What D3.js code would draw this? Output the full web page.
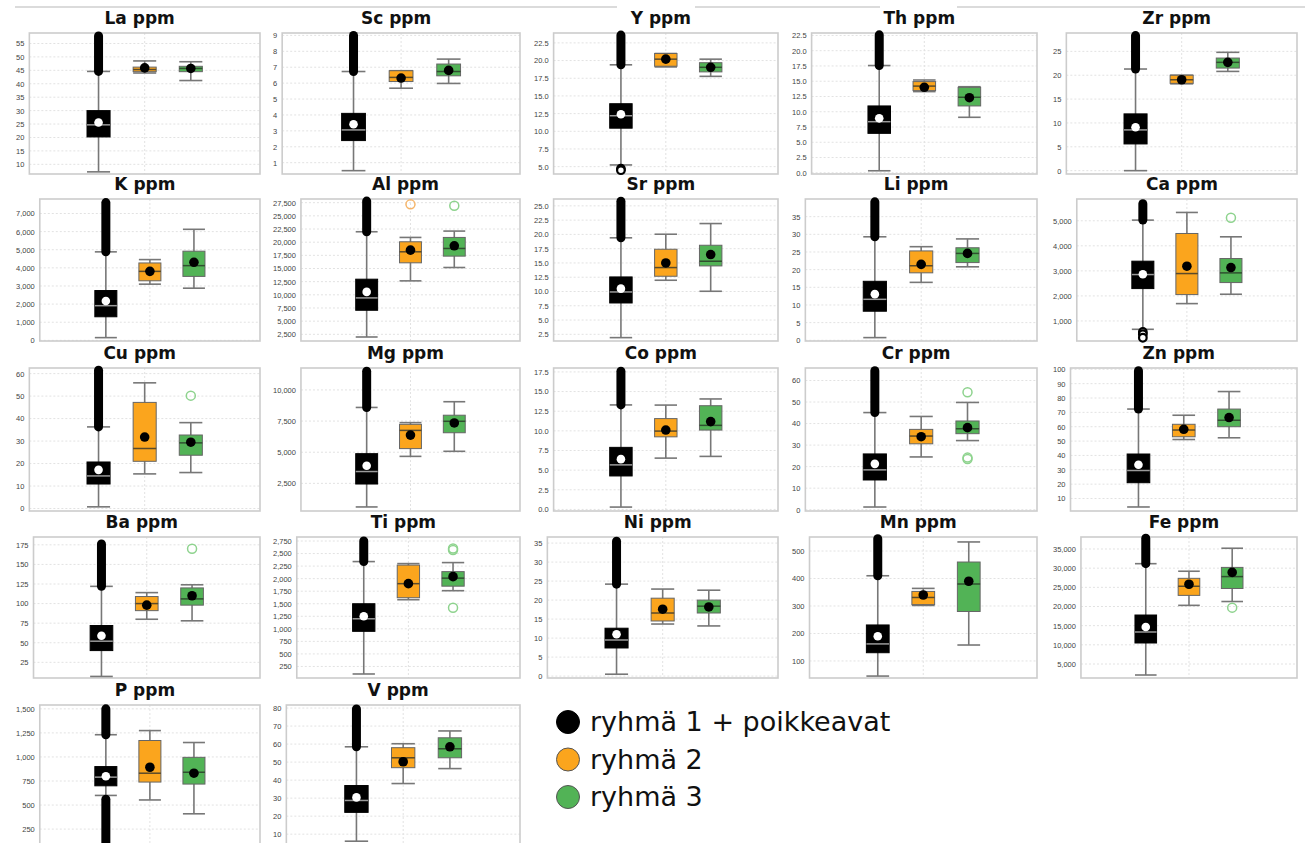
<!DOCTYPE html>
<html><head><meta charset="utf-8">
<script src="https://cdn.jsdelivr.net/npm/d3@7"></script>
<style>body{margin:0;background:#fff}svg{display:block}</style>
</head><body>
<svg id="chart" width="1305" height="843"></svg>
<script>
const panelNames = ["La ppm","Sc ppm","Y ppm","Th ppm","Zr ppm","K ppm","Al ppm","Sr ppm","Li ppm","Ca ppm","Cu ppm","Mg ppm","Co ppm","Cr ppm","Zn ppm","Ba ppm","Ti ppm","Ni ppm","Mn ppm","Fe ppm","P ppm","V ppm"];
const yDomains = [[6.4,58.9],[0.29,9.15],[3.96,23.9],[-0.2,22.9],[-0.7,28.85],[-37,7800],[1231,28200],[1.33,26.2],[-0.2,40],[200,5870],[-1.1,62.5],[280,11760],[-0.2,18.0],[-0.6,65.8],[1.3,100.9],[5,185],[20,2830],[-0.5,36.6],[38,551],[1350,38130],[12,1540],[0.1,81.7]];
const tickValues = [
 [10,15,20,25,30,35,40,45,50,55],
 [1,2,3,4,5,6,7,8,9],
 [5,7.5,10,12.5,15,17.5,20,22.5],
 [0,2.5,5,7.5,10,12.5,15,17.5,20,22.5],
 [0,5,10,15,20,25],
 [0,1000,2000,3000,4000,5000,6000,7000],
 [2500,5000,7500,10000,12500,15000,17500,20000,22500,25000,27500],
 [2.5,5,7.5,10,12.5,15,17.5,20,22.5,25],
 [0,5,10,15,20,25,30,35],
 [1000,2000,3000,4000,5000],
 [0,10,20,30,40,50,60],
 [2500,5000,7500,10000],
 [0,2.5,5,7.5,10,12.5,15,17.5],
 [0,10,20,30,40,50,60],
 [10,20,30,40,50,60,70,80,90,100],
 [25,50,75,100,125,150,175],
 [250,500,750,1000,1250,1500,1750,2000,2250,2500,2750],
 [0,5,10,15,20,25,30,35],
 [100,200,300,400,500],
 [5000,10000,15000,20000,25000,30000,35000],
 [250,500,750,1000,1250,1500],
 [10,20,30,40,50,60,70,80]];
const tickDecimals = [0,0,1,1,0,0,0,1,0,0,0,0,1,0,0,0,0,0,0,0,0,0];
// [low whisker, Q1, median, Q3, high whisker, mean]
const group1Stats = [
 [7.2,20.2,24.7,30.0,44.6,25.6],[0.5,2.39,3.06,4.1,6.73,3.42],[5.24,10.44,12.2,13.9,19.4,12.4],[0.33,6.46,8.37,10.95,17.57,8.92],[0,5.6,8.54,11.9,21.3,9.1],
 [149,1300,1912,2748,4883,2172],[1992,7068,9416,12970,21980,10558],[1.92,7.99,9.92,12.55,19.4,10.5],[0.76,8.23,11.6,16.7,29.3,13.06],[667,2293,2853,3387,5027,2867],
 [0.75,10.9,14.5,20.7,36.3,17.2],[605,2446,3448,4883,8593,3908],[0.3,4.26,5.67,7.9,13.3,6.4],[1.25,13.8,18.5,25.9,45.1,21.3],[4.1,21.0,29.5,41.0,72.3,33.5],
 [7,40,52,72,122,59],[100,950,1200,1500,2340,1250],[0.5,7.4,9.5,12.6,24.2,11.0],[45,130,162,231,410,190],[2130,10480,13350,17780,31170,14650],
 [600,700,790,900,1231,800],[6.1,22.1,28.7,37,58.5,30.4]];
const group1UpperOutlierRange = [[44.6,57.8],[6.73,9.0],[19.4,23.6],[17.57,22.6],[21.3,28.3],[4883,7600],[21980,27800],[19.4,25.8],[29.3,39.2],[5027,5680],[36.3,61.5],[8593,11500],[13.3,17.6],[45.1,64.5],[72.3,99],[122,176],[2340,2750],[24.2,35.5],[410,545],[31170,37800],[1231,1500],[58.5,79.5]];
const group1LowerOutlierRange = [null,null,null,null,null,null,null,null,null,null,null,null,null,null,null,null,null,null,null,null,[20,560],null];
const group1LowerOutliers = [[],[],[4.7,4.5],[],[],[],[],[],[],[560,470,330],[],[],[],[],[],[],[],[],[],[],[],[]];
const group2Stats = [
 [44,44.5,45.3,46.2,48.5,45.9],[5.68,6.1,6.36,6.78,6.78,6.32],[19.1,19.2,20.2,21.0,21.0,20.2],[13.3,13.46,14.2,14.94,15.2,14.0],[18.2,18.3,19.05,20.0,20.0,19.05],
 [3100,3286,3806,4270,4456,3806],[12652,16079,18173,20076,20901,18490],[11.97,12.67,14.19,17.4,20.03,15.0],[16.4,19.1,21.1,25.3,26.5,21.5],[1693,2053,2893,4493,5333,3187],
 [15.4,21,26.7,47.2,55.9,31.8],[4666,5289,6751,7238,7374,6372],[6.53,9.24,9.97,11.56,13.28,10.1],[24.5,30.6,34.2,37.3,43.3,33.9],[51.1,53.0,57.7,61.7,68.0,58.2],
 [80,91,100,109,114,98],[1580,1620,1900,2270,2300,1900],[13.7,14.5,16.6,20.5,22.9,17.6],[302,305,331,353,364,340],[20300,22900,25280,27350,29200,25800],
 [553,739,831,1171,1274,893],[38.1,46.9,52.4,58,60.2,50.2]];
const group2Outliers = [[],[],[],[],[],[],[27183],[],[],[],[],[],[],[],[],[],[],[],[],[],[],[]];
const group3Stats = [
 [41.2,44.5,45.7,46.5,48.2,45.7],[5.98,6.46,6.73,7.2,7.51,6.8],[17.77,18.4,19.05,19.7,20.2,19.05],[9.09,10.95,12.37,14.0,14.1,12.3],[20.8,21.5,22.7,23.6,24.8,22.7],
 [2878,3528,4122,4920,6127,4307],[15190,17348,18807,20901,22107,19315],[10.04,14.48,15.3,18.1,21.9,16.47],[20.8,22.0,24.6,26.2,28.7,24.6],[2067,2533,2920,3493,4360,3133],
 [16.0,23.7,29.2,32.7,38.2,29.5],[5072,6562,7482,7970,9053,7347],[6.75,10.1,10.7,13.2,14.06,11.18],[32.1,35.3,37.6,41.2,49.8,38.1],[52.3,60.0,64.5,72.3,84.5,66.4],
 [78,98,106,120,124,110],[1760,1850,2010,2140,2320,2040],[13.2,16.6,18.4,20,22.6,18.2],[158,280,380,460,533,390],[21300,24700,27800,30200,35200,28900],
 [409,718,841,996,1150,831],[46.4,52.4,57.4,63.5,67.3,58.5]];
const group3Outliers = [[],[],[],[],[],[],[26929],[],[],[5120],[50.2],[],[],[54.5,23.5,24.2],[],[170],[2600,2570,1420],[],[],[19700],[],[]];
const legendLabels = ["ryhmä 1 + poikkeavat","ryhmä 2","ryhmä 3"];

const colors = {g1:"#000000", g2:"#FBA51D", g3:"#52B356", g2out:"#F5B56A", g3out:"#8ED38E"};
const svg = d3.select("#chart");

// layout
const colLabelStart = [15, 272, 533, 791, 1052];
const colRight = [260, 520, 778, 1037, 1297];
const rowTop = [33, 199, 368, 537, 705];
const rowBottom = [174, 341, 511, 678, 852];

// top separator remnants
svg.append("g").selectAll("line").data([[15,617],[695,880],[957,1305]]).join("line")
  .attr("x1",d=>d[0]).attr("x2",d=>d[1]).attr("y1",7).attr("y2",7)
  .attr("stroke","#cfcfcf").attr("stroke-width",1.5);

const measure = svg.append("text").attr("font-family","Liberation Sans, Arial, sans-serif").attr("font-size","7.5px");
function textW(s){ measure.text(s); return measure.node().getComputedTextLength(); }

panelNames.forEach((name, i) => {
  const col = i % 5, row = Math.floor(i / 5);
  const fmt = tickDecimals[i] ? d3.format(",.1f") : d3.format(",");
  const maxW = d3.max(tickValues[i], v => textW(fmt(v)));
  const left = colLabelStart[col] + maxW + 6;
  const right = colRight[col];
  const top = rowTop[row], bottom = rowBottom[row];
  const w = right - left;
  const g = svg.append("g");
  const y = d3.scaleLinear().domain(yDomains[i]).range([bottom, top]);
  const x = d3.scalePoint().domain(["g1","g2","g3"]).range([left + 0.3*w, left + 0.7*w]);
  const bw = 0.1 * w;

  // title
  g.append("text").attr("x",(left+right)/2 - 5).attr("y",top - 9.5)
    .attr("text-anchor","middle").attr("font-family","DejaVu Sans, Verdana, sans-serif")
    .attr("font-weight","bold").attr("font-size","17px").attr("fill","#111").text(name);

  // grid
  g.append("g").selectAll("line").data(tickValues[i]).join("line")
    .attr("x1",left).attr("x2",right).attr("y1",d=>y(d)).attr("y2",d=>y(d))
    .attr("stroke","#e2e2e2").attr("stroke-width",1).attr("stroke-dasharray","2,2");
  g.append("line").attr("x1",left+w/2).attr("x2",left+w/2).attr("y1",top).attr("y2",bottom)
    .attr("stroke","#e2e2e2").attr("stroke-width",1).attr("stroke-dasharray","2,2");

  // axis
  const axis = d3.axisLeft(y).tickValues(tickValues[i]).tickFormat(fmt).tickSize(0).tickPadding(5);
  const ag = g.append("g").attr("transform",`translate(${left},0)`).call(axis);
  ag.select(".domain").remove();
  ag.selectAll("text").attr("font-family","Liberation Sans, Arial, sans-serif").attr("font-size","7.5px").attr("fill","#444");

  // frame
  g.append("rect").attr("x",left).attr("y",top).attr("width",w).attr("height",bottom-top)
    .attr("fill","none").attr("stroke","#cccccc").attr("stroke-width",1.6);

  const groups = [
    {k:"g1", s:group1Stats[i], fill:colors.g1, med:"#9a9a9a", stroke:"#000", meanFill:"#fff"},
    {k:"g2", s:group2Stats[i], fill:colors.g2, med:"#5a4a2a", stroke:"#666", meanFill:"#000"},
    {k:"g3", s:group3Stats[i], fill:colors.g3, med:"#2f4f2f", stroke:"#666", meanFill:"#000"}];

  groups.forEach(gr => {
    const cx = x(gr.k), s = gr.s;
    g.append("line").attr("x1",cx).attr("x2",cx).attr("y1",y(s[0])).attr("y2",y(s[4]))
      .attr("stroke","#777").attr("stroke-width",1.6);
    [s[0], s[4]].forEach(v => g.append("line").attr("x1",cx-bw/2).attr("x2",cx+bw/2)
      .attr("y1",y(v)).attr("y2",y(v)).attr("stroke","#777").attr("stroke-width",1.6));
    if (gr.k === "g1") {
      const r = group1UpperOutlierRange[i];
      g.append("line").attr("x1",cx).attr("x2",cx).attr("y1",y(r[0])).attr("y2",y(r[1]))
        .attr("stroke","#000").attr("stroke-width",9).attr("stroke-linecap","round");
      const lr = group1LowerOutlierRange[i];
      if (lr) g.append("line").attr("x1",cx).attr("x2",cx).attr("y1",y(lr[0])).attr("y2",y(lr[1]))
        .attr("stroke","#000").attr("stroke-width",9).attr("stroke-linecap","round");
      g.selectAll(null).data(group1LowerOutliers[i]).join("circle")
        .attr("cx",cx).attr("cy",d=>y(d)).attr("r",3.8).attr("fill","#fff").attr("stroke","#000").attr("stroke-width",2.2);
    }
    g.append("rect").attr("x",cx-bw/2).attr("y",y(s[3])).attr("width",bw).attr("height",Math.max(1,y(s[1])-y(s[3])))
      .attr("fill",gr.fill).attr("stroke",gr.stroke).attr("stroke-width",1);
    g.append("line").attr("x1",cx-bw/2).attr("x2",cx+bw/2).attr("y1",y(s[2])).attr("y2",y(s[2]))
      .attr("stroke",gr.med).attr("stroke-width",1.5);
    g.append("circle").attr("cx",cx).attr("cy",y(s[5])).attr("r",gr.k==="g1"?4.3:4.8).attr("fill",gr.meanFill);
  });
  g.selectAll(null).data(group2Outliers[i]).join("circle")
    .attr("cx",x("g2")).attr("cy",d=>y(d)).attr("r",4.5).attr("fill","none").attr("stroke",colors.g2out).attr("stroke-width",1.5);
  g.selectAll(null).data(group3Outliers[i]).join("circle")
    .attr("cx",x("g3")).attr("cy",d=>y(d)).attr("r",4.5).attr("fill","none").attr("stroke",colors.g3out).attr("stroke-width",1.5);
});
measure.remove();

// legend
const legendColors = [colors.g1, colors.g2, colors.g3];
const lg = svg.append("g").attr("transform","translate(568,722)");
const items = lg.selectAll("g").data(legendLabels).join("g").attr("transform",(d,j)=>`translate(0,${j*37.5})`);
items.append("circle").attr("r",11.5).attr("fill",(d,j)=>legendColors[j]).attr("stroke",(d,j)=>j?"#555":"#000").attr("stroke-width",1);
items.append("text").attr("x",22).attr("y",0).attr("dy","0.35em")
  .attr("font-family","DejaVu Sans, Verdana, sans-serif").attr("font-size","27px").attr("fill","#111").text(d=>d);
</script>
</body></html>
